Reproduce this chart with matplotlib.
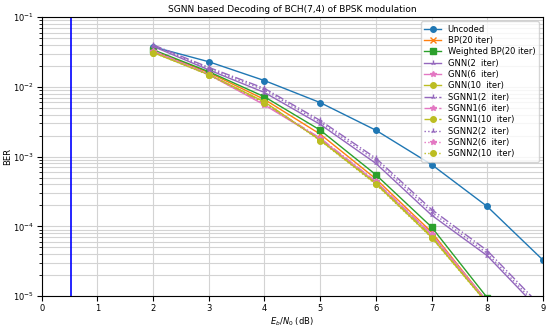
import numpy as np
import matplotlib
matplotlib.use("Agg")
import matplotlib.pyplot as plt

# Eb/N0 points (dB)
snr_uncoded = [2, 3, 4, 5, 6, 7, 8, 9]
snr = [2, 3, 4, 5, 6, 7, 8]
snr_long = [2, 3, 4, 5, 6, 7, 8, 9]

# BER values
ber_uncoded = [3.75e-2, 2.29e-2, 1.23e-2, 5.95e-3, 2.39e-3, 7.7e-4, 1.93e-4, 3.3e-5]
ber_bp = [3.3e-2, 1.6e-2, 6.6e-3, 2.1e-3, 4.8e-4, 8.3e-5, 8.3e-6]
ber_wbp = [3.4e-2, 1.65e-2, 7.2e-3, 2.4e-3, 5.5e-4, 9.8e-5, 9.5e-6]

ber_gnn2 = [3.8e-2, 1.75e-2, 8.3e-3, 2.9e-3, 8.0e-4, 1.45e-4, 3.8e-5, 5.6e-6]
ber_gnn6 = [3.2e-2, 1.5e-2, 5.5e-3, 1.8e-3, 4.3e-4, 7.6e-5, 8.2e-6]
ber_gnn10 = [3.1e-2, 1.5e-2, 6.1e-3, 1.72e-3, 4.1e-4, 7.0e-5, 7.9e-6]

ber_sgnn1_2 = [4.0e-2, 1.9e-2, 9.5e-3, 3.3e-3, 9.5e-4, 1.75e-4, 4.5e-5, 6.7e-6]
ber_sgnn1_6 = [3.3e-2, 1.52e-2, 5.7e-3, 1.85e-3, 4.4e-4, 7.8e-5, 8.4e-6]
ber_sgnn1_10 = [3.15e-2, 1.5e-2, 6.0e-3, 1.75e-3, 4.2e-4, 7.2e-5, 8.0e-6]

ber_sgnn2_2 = [3.9e-2, 1.82e-2, 9.0e-3, 3.1e-3, 8.8e-4, 1.6e-4, 4.1e-5, 6.1e-6]
ber_sgnn2_6 = [3.25e-2, 1.5e-2, 5.6e-3, 1.82e-3, 4.35e-4, 7.7e-5, 8.3e-6]
ber_sgnn2_10 = [3.1e-2, 1.48e-2, 5.9e-3, 1.7e-3, 4.0e-4, 6.9e-5, 7.8e-6]

limit_x = 0.52

fig = plt.figure(figsize=(5.5, 3.29), dpi=100)
ax = fig.add_axes([0.076, 0.100, 0.911, 0.848])

ax.semilogy(snr_uncoded, ber_uncoded, '-o', color='tab:blue', lw=1, ms=4, label='Uncoded')
ax.semilogy(snr, ber_bp, '-x', color='tab:orange', lw=1, ms=4, label='BP(20 iter)')
ax.semilogy(snr, ber_wbp, '-s', color='tab:green', lw=1, ms=4, label='Weighted BP(20 iter)')
ax.semilogy(snr_long, ber_gnn2, '-2', color='tab:purple', lw=1, ms=4, label='GNN(2  iter)')
ax.semilogy(snr, ber_gnn6, '-*', color='tab:pink', lw=1, ms=4, label='GNN(6  iter)')
ax.semilogy(snr, ber_gnn10, '-o', color='tab:olive', lw=1, ms=4, label='GNN(10  iter)')
ax.semilogy(snr_long, ber_sgnn1_2, '-.2', color='tab:purple', lw=1, ms=4, label='SGNN1(2  iter)')
ax.semilogy(snr, ber_sgnn1_6, '-.*', color='tab:pink', lw=1, ms=4, label='SGNN1(6  iter)')
ax.semilogy(snr, ber_sgnn1_10, '-.o', color='tab:olive', lw=1, ms=4, label='SGNN1(10  iter)')
ax.semilogy(snr_long, ber_sgnn2_2, ':2', color='tab:purple', lw=1, ms=4, label='SGNN2(2  iter)')
ax.semilogy(snr, ber_sgnn2_6, ':*', color='tab:pink', lw=1, ms=4, label='SGNN2(6  iter)')
ax.semilogy(snr, ber_sgnn2_10, ':o', color='tab:olive', lw=1, ms=4, label='SGNN2(10  iter)')

ax.axvline(limit_x, color='blue', lw=1.2)

ax.set_xlim(0, 9)
ax.set_ylim(1e-5, 1e-1)
ax.set_xticks(range(10))
ax.grid(True, which='both', color='#d3d3d3', lw=0.8)
ax.tick_params(labelsize=6, pad=2)
ax.set_xlabel(r'$E_b/N_0$ (dB)', fontsize=6, labelpad=2)
ax.set_ylabel('BER', fontsize=6, labelpad=1)
ax.set_title('SGNN based Decoding of BCH(7,4) of BPSK modulation', fontsize=6.5, pad=4)
ax.legend(loc='upper right', fontsize=6, handlelength=2.0, labelspacing=0.28,
          borderpad=0.4, framealpha=0.8)

fig.savefig('out.png', dpi=100)
